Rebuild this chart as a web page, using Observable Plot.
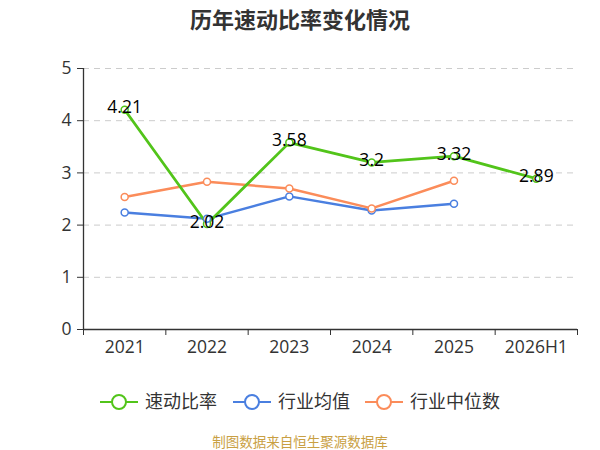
<!DOCTYPE html>
<html><head><meta charset="utf-8">
<script src="https://cdn.jsdelivr.net/npm/d3@7"></script>
<script src="https://cdn.jsdelivr.net/npm/@observablehq/plot@0.6"></script>
<style>
body{margin:0;width:600px;height:450px;position:relative;background:#fff;font-family:"Open Sans","Noto Sans CJK SC",sans-serif;overflow:hidden}
#title{position:absolute;left:0;top:0;width:600px;height:36px;line-height:36px;text-align:center;font-size:22px;font-weight:bold;color:#333;font-family:"Noto Sans CJK SC",sans-serif}
#chart{position:absolute;left:0;top:36px}
#legend{position:absolute;left:0;top:388px;width:600px;height:28px}
#caption{position:absolute;left:0;top:431px;width:600px;text-align:center;font-size:13.5px;line-height:20px;color:#c9a043;font-family:"Noto Sans CJK SC",sans-serif}
</style></head>
<body>
<div id="title">历年速动比率变化情况</div>
<div id="chart"></div>
<div id="legend"></div>
<div id="caption">制图数据来自恒生聚源数据库</div>
<script>
const categories = ["2021","2022","2023","2024","2025","2026H1"];
const quickRatio = [4.21, 2.02, 3.58, 3.2, 3.32, 2.89];
const industryAvg = [2.24, 2.12, 2.55, 2.28, 2.41];
const industryMedian = [2.54, 2.83, 2.70, 2.32, 2.85];
const seriesNames = ["速动比率","行业均值","行业中位数"];
const colors = ["#52c41a","#4a7fe0","#fb8c5a"];
const yTicks = [0,1,2,3,4,5];

const rows = [];
[quickRatio, industryAvg, industryMedian].forEach((arr, s) => {
  arr.forEach((v, i) => rows.push({series: seriesNames[s], i: i + 0.5, cat: categories[i], value: v}));
});
const green = rows.filter(d => d.series === seriesNames[0]);
const others = rows.filter(d => d.series !== seriesNames[0]);
const color = {domain: seriesNames, range: colors};
const FS = 17.5;

const chart = Plot.plot({
  width: 600, height: 334,
  marginLeft: 83, marginRight: 23, marginTop: 32, marginBottom: 41,
  style: {fontFamily: '"Open Sans","Noto Sans CJK SC",sans-serif', fontSize: FS + "px", color: "#333", background: "transparent"},
  x: {domain: [0, categories.length], axis: null},
  y: {domain: [0, 5], axis: null},
  color,
  marks: [
    Plot.ruleY(yTicks.filter(t => t > 0), {stroke: "#ccc", strokeDasharray: "6,5", strokeWidth: 1}),
    Plot.axisY({ticks: yTicks, tickSize: 6, tickPadding: 6, stroke: "#333", fill: "#333", fontSize: FS, label: null, tickFormat: d => d}),
    Plot.ruleX([0], {stroke: "#333", strokeWidth: 1.3}),
    Plot.ruleY([0], {stroke: "#333", strokeWidth: 1.3}),
    Plot.axisX({ticks: d3.range(categories.length + 1), tickSize: 6, label: null, tickFormat: () => "", stroke: "#333"}),
    Plot.axisX({ticks: categories.map((c, i) => i + 0.5), tickSize: 0, tickPadding: 11, label: null, fill: "#333", fontSize: FS, tickFormat: v => categories[Math.floor(v)]}),
    Plot.lineY(others, {x: "i", y: "value", z: "series", stroke: "series", strokeWidth: 2.5}),
    Plot.lineY(green, {x: "i", y: "value", stroke: "series", strokeWidth: 2.8}),
    Plot.dot(rows, {x: "i", y: "value", stroke: "series", fill: "#fff", r: 3.5, strokeWidth: 1.5}),
    Plot.text(green, {x: "i", y: "value", text: d => String(d.value), dy: -2, fontSize: FS, fill: "#000"})
  ]
});
document.getElementById("chart").appendChild(chart);

// legend
const lw = 600, lh = 28;
const ls = d3.create("svg").attr("width", lw).attr("height", lh);
const starts = [100, 233, 365];
seriesNames.forEach((n, k) => {
  const g = ls.append("g").attr("transform", `translate(${starts[k]},14)`);
  g.append("line").attr("x1", 0).attr("x2", 38).attr("y1", 0).attr("y2", 0).attr("stroke", colors[k]).attr("stroke-width", 2);
  g.append("circle").attr("cx", 19).attr("cy", 0).attr("r", 7).attr("fill", "#fff").attr("stroke", colors[k]).attr("stroke-width", 2);
  g.append("text").attr("x", 45).attr("y", 0).attr("dy", "0.35em").attr("font-size", 18).attr("fill", "#333")
    .attr("font-family", '"Noto Sans CJK SC",sans-serif').text(n);
});
document.getElementById("legend").appendChild(ls.node());
</script>
</body></html>
